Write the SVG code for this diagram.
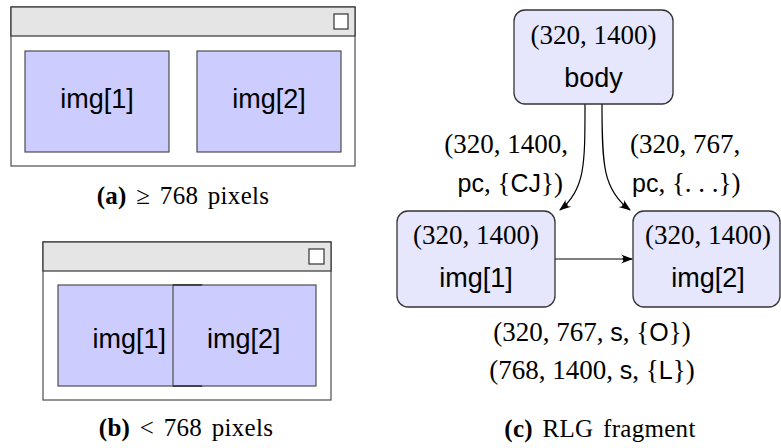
<svg xmlns="http://www.w3.org/2000/svg" width="781" height="448" viewBox="0 0 781 448">
  <style>
    .win { fill: #ffffff; stroke: #4d4d4d; stroke-width: 1.2; }
    .bar { fill: #e5e5e5; stroke: #333333; stroke-width: 1.2; }
    .btn { fill: #ffffff; stroke: #333333; stroke-width: 1.2; }
    .img { fill: #ccccff; stroke: #4d4d4d; stroke-width: 1.2; }
    .node { fill: #e6e6fc; stroke: #333333; stroke-width: 1.3; }
    .sans { font-family: "Liberation Sans", Arial, sans-serif; font-size: 27px; fill: #000; }
    .math { font-family: "Liberation Serif", "Times New Roman", serif; font-size: 27px; fill: #000; }
    .ms { font-family: "Liberation Sans", Arial, sans-serif; font-size: 25px; }
    .cap { font-family: "Liberation Serif", "Times New Roman", serif; font-size: 25px; fill: #000;
           text-anchor: middle; word-spacing: 3px; letter-spacing: 0.3px; }
    .b { font-weight: bold; }
    .edge { fill: none; stroke: #000; stroke-width: 1.2; }
  </style>
  <defs>
    <marker id="arrow" viewBox="0 0 12 10" refX="11" refY="5" markerWidth="12" markerHeight="10" markerUnits="userSpaceOnUse" orient="auto">
      <path d="M0,0.5 Q4,4 1,5 Q4,6 0,9.5 L12,5 Z" fill="#000"/>
    </marker>
  </defs>

  <!-- window at >= 768 px -->
  <g id="window-wide">
    <rect class="win" x="11" y="7" width="344" height="159"/>
    <rect class="bar" x="11" y="7" width="344" height="29"/>
    <rect class="btn" x="334" y="14" width="14" height="15"/>
    <rect class="img" x="25" y="51" width="144" height="101"/>
    <rect class="img" x="197" y="51" width="144" height="101"/>
    <text class="sans" x="97" y="108" text-anchor="middle">img[1]</text>
    <text class="sans" x="269" y="108" text-anchor="middle">img[2]</text>
    <text class="cap" x="183" y="204"><tspan class="b">(a)</tspan> ≥ 768 pixels</text>
  </g>

  <!-- window at < 768 px -->
  <g id="window-narrow">
    <rect class="win" x="43" y="242" width="288" height="158"/>
    <rect class="bar" x="43" y="242" width="288" height="29"/>
    <rect class="btn" x="309" y="249" width="15" height="15"/>
    <rect class="img" x="58" y="285" width="144" height="101"/>
    <rect class="img" x="173" y="285" width="143" height="101"/>
    <path d="M173,285 H202 M173,386 H202" stroke="#333" stroke-width="1.6" fill="none"/>
    <text class="sans" x="166" y="348" text-anchor="end">img[1]</text>
    <text class="sans" x="207" y="348">img[2]</text>
    <text class="cap" x="186" y="436"><tspan class="b">(b)</tspan> &lt; 768 pixels</text>
  </g>

  <!-- RLG fragment -->
  <g id="connectors">
    <path class="edge" d="M585,104 C585,165 585,190 560,210" marker-end="url(#arrow)"/>
    <path class="edge" d="M602,104 C602,165 603,190 630,210" marker-end="url(#arrow)"/>
    <path class="edge" d="M555,259 L632,259" marker-end="url(#arrow)"/>
    <text class="math" x="568" y="153" text-anchor="end">(320, 1400,</text>
    <text class="math" x="563" y="192" text-anchor="end"><tspan class="ms">pc</tspan>, {<tspan class="ms">CJ</tspan>})</text>
    <text class="math" x="630" y="153">(320, 767,</text>
    <text class="math" x="632" y="192"><tspan class="ms">pc</tspan>, {. . .})</text>
    <text class="math" x="592" y="341" text-anchor="middle">(320, 767, <tspan class="ms">s</tspan>, {<tspan class="ms">O</tspan>})</text>
    <text class="math" x="592" y="379" text-anchor="middle">(768, 1400, <tspan class="ms">s</tspan>, {<tspan class="ms">L</tspan>})</text>
  </g>

  <g id="node-body">
    <rect class="node" x="514" y="10" width="159" height="94" rx="11"/>
    <text class="math" x="593.5" y="44" text-anchor="middle">(320, 1400)</text>
    <text class="sans" x="593.5" y="87" text-anchor="middle">body</text>
  </g>

  <g id="node-img1">
    <rect class="node" x="397" y="211" width="158" height="96" rx="11"/>
    <text class="math" x="476" y="244" text-anchor="middle">(320, 1400)</text>
    <text class="sans" x="476" y="287" text-anchor="middle">img[1]</text>
  </g>

  <g id="node-img2">
    <rect class="node" x="633" y="211" width="147" height="96" rx="11"/>
    <text class="math" x="708" y="244" text-anchor="middle">(320, 1400)</text>
    <text class="sans" x="708" y="287" text-anchor="middle">img[2]</text>
  </g>

  <text class="cap" x="600" y="437"><tspan class="b">(c)</tspan> RLG fragment</text>
</svg>
